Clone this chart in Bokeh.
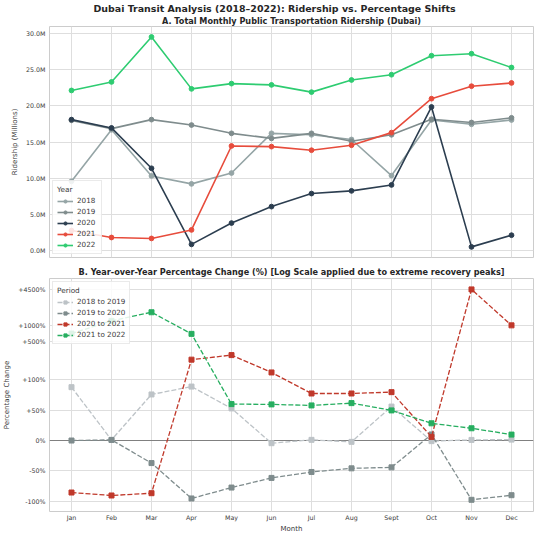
import math
from bokeh.plotting import figure
from bokeh.models import Range1d, FixedTicker, Title, Span
from bokeh.layouts import column
from bokeh.embed import file_html
from bokeh.resources import INLINE

# ---------------- data ----------------
months = ["Jan", "Feb", "Mar", "Apr", "May", "Jun", "Jul", "Aug", "Sept", "Oct", "Nov", "Dec"]
years = ["2018", "2019", "2020", "2021", "2022"]

# Ridership, millions
r2018 = [9.55, 16.7, 10.3, 9.2, 10.7, 16.2, 16.0, 15.35, 10.35, 18.05, 17.45, 18.05]
r2019 = [18.0, 16.85, 18.1, 17.35, 16.2, 15.5, 16.2, 15.1, 16.0, 18.15, 17.7, 18.35]
r2020 = [18.1, 16.95, 11.36, 0.82, 3.77, 6.05, 7.86, 8.23, 9.05, 19.85, 0.47, 2.09]
r2021 = [2.73, 1.77, 1.64, 2.82, 14.45, 14.36, 13.86, 14.55, 16.3, 21.0, 22.73, 23.18]
r2022 = [22.14, 23.32, 29.55, 22.36, 23.09, 22.91, 21.91, 23.59, 24.32, 26.95, 27.23, 25.32]

# Year-over-year change, percent
periods = ["2018 to 2019", "2019 to 2020", "2020 to 2021", "2021 to 2022"]
c1819 = [88.0, 1.0, 76.0, 89.0, 53.0, -4.4, 1.1, -2.2, 56.0, -1.0, 1.0, 1.5]
c1920 = [0.0, 1.0, -37.2, -95.6, -77.6, -61.7, -51.9, -45.9, -44.3, 10.0, -97.8, -90.2]
c2021 = [-85.8, -90.7, -86.9, 235.0, 285.0, 137.0, 77.6, 77.6, 79.8, 6.0, 4560.0, 1000.0]
c2122 = [708.0, 1210.0, 1738.0, 698.0, 60.1, 59.6, 57.9, 61.7, 49.7, 28.4, 20.2, 9.8]

ridership_ticks = [0, 5, 10, 15, 20, 25, 30]
ridership_tick_labels = ["0.0M", "5.0M", "10.0M", "15.0M", "20.0M", "25.0M", "30.0M"]
pct_ticks = [-100, -50, 0, 50, 100, 500, 1000, 4500]
pct_tick_labels = ["-100%", "-50%", "0%", "+50%", "+100%", "+500%", "+1000%", "+4500%"]

year_colors = ["#95a5a6", "#7f8c8d", "#2c3e50", "#e74c3c", "#2ecc71"]
period_colors = ["#bdc3c7", "#7f8c8d", "#c0392b", "#27ae60"]

# symmetric log transform (linear within +-100 %)
LINTHRESH = 100.0
LINSCALE = 1.0 / (1.0 - 1.0 / 10.0)


def symlog(v):
    a = abs(v)
    if a <= LINTHRESH:
        return v / LINTHRESH * LINSCALE
    return math.copysign(LINSCALE + math.log10(a / LINTHRESH), v)


FONT = "DejaVu Sans"
xs = list(range(len(months)))


def style(p):
    p.background_fill_color = "white"
    p.border_fill_color = "white"
    p.outline_line_color = "#cccccc"
    p.outline_line_width = 1
    for g in p.grid:
        g.grid_line_color = "#dedede"
        g.grid_line_width = 1
    for ax in p.axis:
        ax.axis_line_color = None
        ax.major_tick_line_color = None
        ax.minor_tick_line_color = None
        ax.major_tick_out = 0
        ax.major_tick_in = 0
        ax.minor_tick_out = 0
        ax.minor_tick_in = 0
        ax.major_label_text_font = FONT
        ax.major_label_text_font_size = "6.3px"
        ax.major_label_text_color = "#3a3a3a"
        ax.axis_label_text_font = FONT
        ax.axis_label_text_font_size = "7px"
        ax.axis_label_text_font_style = "normal"
        ax.axis_label_text_color = "#3a3a3a"
        ax.major_label_standoff = 4
        ax.axis_label_standoff = 4


def style_legend(lg, title):
    lg.title = title
    lg.title_text_font = FONT
    lg.title_text_font_size = "7.3px"
    lg.title_text_font_style = "normal"
    lg.title_text_color = "#3a3a3a"
    lg.title_standoff = 2
    lg.label_text_font = FONT
    lg.label_text_font_size = "7.2px"
    lg.label_text_color = "#3a3a3a"
    lg.label_height = 8
    lg.glyph_height = 8
    lg.glyph_width = 16
    lg.label_standoff = 4
    lg.spacing = 2
    lg.padding = 4
    lg.margin = 3
    lg.background_fill_alpha = 0.85
    lg.border_line_color = "#d6d6d6"
    lg.border_line_width = 1


# ---------------- top chart ----------------
p1 = figure(width=534, frame_height=231, output_backend="svg", toolbar_location=None,
            x_range=Range1d(-0.55, 11.55), y_range=Range1d(-1.0, 31.0),
            x_axis_location=None,
            min_border_left=41, min_border_right=1, min_border_top=23, min_border_bottom=3,
            title=None)
sub1 = Title(text="A. Total Monthly Public Transportation Ridership (Dubai)",
             align="center", text_font=FONT, text_font_size="8.15px", text_font_style="bold",
             text_color="#262626", standoff=1)
main = Title(text="Dubai Transit Analysis (2018–2022): Ridership vs. Percentage Shifts",
             align="left", offset=44, text_font=FONT, text_font_size="9.45px",
             text_font_style="bold", text_color="#262626", standoff=0)
p1.add_layout(sub1, "above")
p1.add_layout(main, "above")

series_r = [r2018, r2019, r2020, r2021, r2022]
for name, vals, col in zip(years, series_r, year_colors):
    p1.line(xs, vals, line_color=col, line_width=1.6, legend_label=name)
    p1.scatter(xs, vals, marker="circle", size=4.8, fill_color=col, line_color=col,
               legend_label=name)

p1.xgrid[0].ticker = FixedTicker(ticks=xs)
p1.yaxis.ticker = FixedTicker(ticks=ridership_ticks)
p1.yaxis.major_label_overrides = {t: l for t, l in zip(ridership_ticks, ridership_tick_labels)}
p1.yaxis.axis_label = "Ridership (Millions)"
style(p1)
p1.legend.location = "bottom_left"
style_legend(p1.legend[0], "Year")

# ---------------- bottom chart ----------------
p2 = figure(width=534, frame_height=233, output_backend="svg", toolbar_location=None,
            x_range=Range1d(-0.55, 11.55), y_range=Range1d(symlog(-100) - 0.19, 2.97),
            min_border_left=41, min_border_right=1, min_border_top=18, min_border_bottom=0,
            title=None)
sub2 = Title(text="B. Year-over-Year Percentage Change (%) [Log Scale applied due to extreme recovery peaks]",
             align="center", text_font=FONT, text_font_size="8.15px", text_font_style="bold",
             text_color="#262626", standoff=3)
p2.add_layout(sub2, "above")

zero = Span(location=symlog(0), dimension="width", line_color="#808080", line_width=1.2,
            level="underlay")
p2.add_layout(zero)

series_c = [c1819, c1920, c2021, c2122]
for name, vals, col in zip(periods, series_c, period_colors):
    tv = [symlog(v) for v in vals]
    p2.line(xs, tv, line_color=col, line_width=1.3, line_dash="5 2", legend_label=name)
    p2.scatter(xs, tv, marker="square", size=5, fill_color=col, line_color=col,
               legend_label=name)

p2.xaxis.ticker = FixedTicker(ticks=xs)
p2.xaxis.major_label_overrides = {i: m for i, m in enumerate(months)}
p2.xaxis.axis_label = "Month"
tpos = [symlog(t) for t in pct_ticks]
p2.yaxis.ticker = FixedTicker(ticks=tpos)
p2.yaxis.major_label_overrides = {t: l for t, l in zip(tpos, pct_tick_labels)}
p2.yaxis.axis_label = "Percentage Change"
style(p2)
p2.xaxis.major_label_standoff = 2
p2.xaxis.axis_label_standoff = 1
p2.legend.location = "top_left"
style_legend(p2.legend[0], "Period")

layout = column(p1, p2, spacing=0)
open("out.html", "w").write(file_html(layout, INLINE))
